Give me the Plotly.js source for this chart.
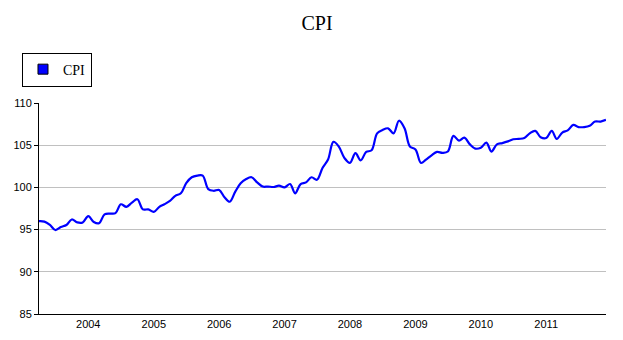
<!DOCTYPE html>
<html>
<head>
<meta charset="utf-8">
<script src="https://cdn.plot.ly/plotly-3.0.1.min.js"></script>
<style>html,body{margin:0;padding:0;background:#fff;}#chart{width:623px;height:340px;}</style>
</head>
<body>
<div id="chart"></div>
<script>
// Monthly CPI, April 2003 - December 2011
var startMonth = '2003-04';
var cpiValues = [
  96.0, 95.95, 95.55, 94.95, 95.3, 95.55, 96.2, 95.85, 95.85,            // 2003 Apr-Dec
  96.6, 95.9, 95.75, 96.8, 96.9, 96.95, 98.0, 97.7, 98.2, 98.6, 97.4, 97.4, // 2004
  97.1, 97.7, 98.0, 98.4, 99.0, 99.3, 100.5, 101.2, 101.4, 101.4, 99.8, 99.6, // 2005
  99.7, 98.8, 98.3, 99.5, 100.5, 101.0, 101.2, 100.6, 100.1, 100.1, 100.05, 100.2, // 2006
  100.0, 100.4, 99.3, 100.4, 100.6, 101.2, 100.9, 102.3, 103.3, 105.4, 104.8, 103.5, // 2007
  102.9, 104.05, 103.2, 104.2, 104.4, 106.4, 106.8, 107.0, 106.4, 107.9, 107.0, 104.85, // 2008
  104.5, 102.9, 103.3, 103.8, 104.2, 104.1, 104.25, 106.1, 105.55, 105.9, 105.1, 104.6, // 2009
  104.7, 105.3, 104.25, 105.1, 105.25, 105.45, 105.7, 105.75, 105.85, 106.4, 106.7, 105.95, // 2010
  105.85, 106.7, 105.75, 106.5, 106.75, 107.4, 107.15, 107.15, 107.3, 107.8, 107.8, 108.0  // 2011
];
var seriesName = 'CPI';
var yTicks = [85, 90, 95, 100, 105, 110];

function monthDates(start, n) {
  var p = start.split('-');
  var y = +p[0], m = +p[1] - 1;
  var out = [];
  for (var i = 0; i < n; i++) {
    var yy = y + Math.floor((m + i) / 12), mm = (m + i) % 12 + 1;
    out.push(yy + '-' + (mm < 10 ? '0' : '') + mm + '-01');
  }
  return out;
}
var dates = monthDates(startMonth, cpiValues.length);

var traces = [
  {
    x: dates, y: cpiValues, type: 'scatter', mode: 'lines',
    line: {color: '#0000ff', width: 2.2, shape: 'spline', smoothing: 1},
    name: seriesName, showlegend: false, hoverinfo: 'x+y'
  },
  {
    x: [null], y: [null], type: 'scatter', mode: 'markers',
    marker: {symbol: 'square', color: '#0000ff', size: 10, line: {color: '#000', width: 1}},
    name: seriesName, showlegend: true
  }
];

var layout = {
  width: 623, height: 340,
  paper_bgcolor: '#fff', plot_bgcolor: '#fff',
  margin: {l: 39, r: 17, t: 103, b: 26, pad: 0},
  title: {
    text: 'CPI', x: 0.509, xanchor: 'center', y: 0.932, yanchor: 'middle',
    font: {family: '"Liberation Serif", "Times New Roman", serif', size: 20, color: '#000'}
  },
  showlegend: true,
  legend: {
    x: -0.03, xanchor: 'left', y: 1.239, yanchor: 'top',
    bgcolor: '#fff', bordercolor: '#000', borderwidth: 1,
    font: {family: '"Liberation Serif", "Times New Roman", serif', size: 14, color: '#000'},
    itemwidth: 30
  },
  xaxis: {
    type: 'date',
    range: [dates[0], dates[dates.length - 1]],
    tick0: '2004-01-01', dtick: 'M12', tickformat: '%Y',
    showgrid: false, zeroline: false,
    showline: true, linecolor: '#000', linewidth: 1,
    ticks: '',
    tickfont: {family: '"Liberation Sans", Arial, sans-serif', size: 11, color: '#000'}
  },
  yaxis: {
    range: [85, 110],
    tickmode: 'array', tickvals: yTicks, ticktext: yTicks.map(String),
    showgrid: true, gridcolor: '#c0c0c0', gridwidth: 1,
    zeroline: false, showline: true, linecolor: '#000', linewidth: 1,
    ticks: 'outside', ticklen: 4, tickcolor: '#000',
    tickfont: {family: '"Liberation Sans", Arial, sans-serif', size: 11, color: '#000'}
  }
};

Plotly.newPlot('chart', traces, layout, {displayModeBar: false, staticPlot: true});
</script>
</body>
</html>
